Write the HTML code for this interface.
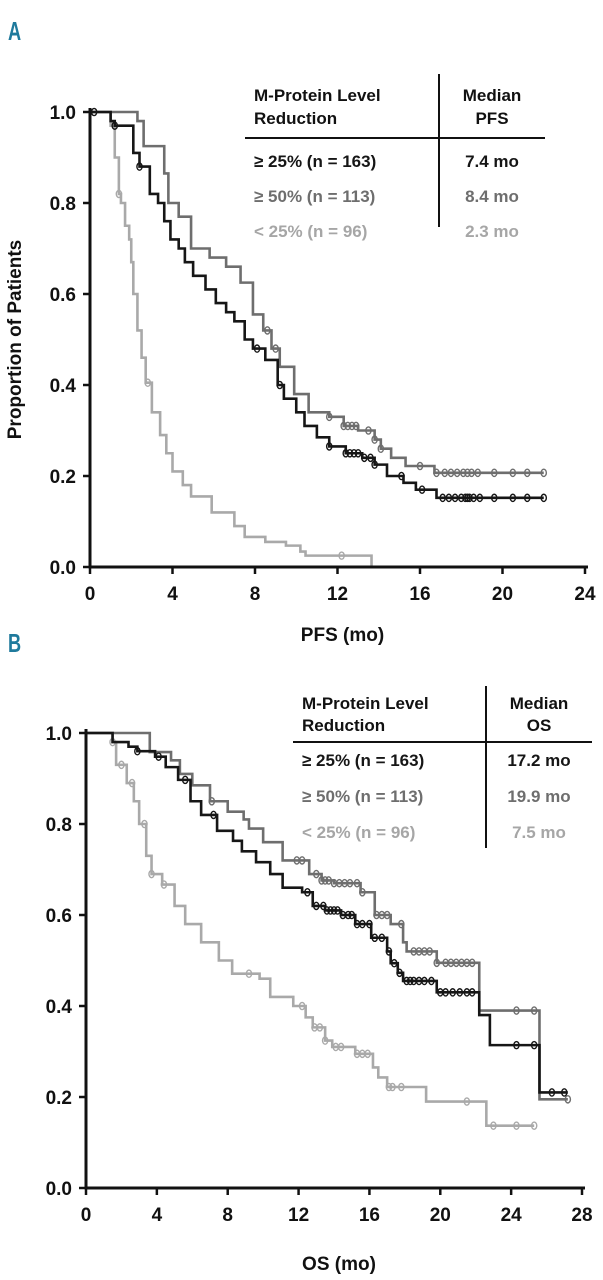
<!DOCTYPE html>
<html><head><meta charset="utf-8">
<style>
html,body{margin:0;padding:0;background:#fff;}
svg{display:block;font-family:"Liberation Sans",Arial,sans-serif;}
</style></head>
<body>
<svg id="fig" width="603" height="1280" viewBox="0 0 603 1280" xmlns="http://www.w3.org/2000/svg">
<g id="panelA"></g>
<g id="panelB"></g>
</svg>
<script>
// ===== Panel A (PFS) data =====
const pfsBlackT = [1.0,1.2,2.1,2.4,2.9,3.3,3.6,3.9,4.3,4.6,5.0,5.6,6.1,6.6,7.0,7.5,7.9,8.5,9.1,9.4,10.0,10.4,11.0,11.6,12.4,13.2,13.8,14.4,15.2,15.8,16.8];
const pfsBlackV = [0.98,0.97,0.91,0.88,0.82,0.80,0.76,0.72,0.70,0.67,0.64,0.61,0.58,0.56,0.54,0.50,0.48,0.455,0.40,0.37,0.34,0.31,0.285,0.265,0.25,0.24,0.225,0.20,0.185,0.17,0.152];
const pfsBlackC = [0.2,1.2,2.4,8.1,9.2,11.6,12.4,12.6,12.8,13.0,13.3,13.6,13.8,15.1,16.1,17.1,17.4,17.7,18.0,18.2,18.3,18.4,18.6,18.9,19.6,20.5,21.2,22.0];
const pfsDarkT = [2.3,2.6,3.6,3.8,4.3,4.9,5.8,6.6,7.3,7.9,8.4,8.8,9.2,9.9,10.6,11.6,12.3,13.0,13.8,14.1,14.6,15.3,16.7];
const pfsDarkV = [0.98,0.925,0.865,0.80,0.77,0.70,0.68,0.66,0.625,0.555,0.52,0.48,0.44,0.38,0.34,0.33,0.31,0.30,0.28,0.26,0.24,0.222,0.207];
const pfsDarkC = [8.6,9.0,11.6,12.3,12.5,12.7,12.9,13.5,13.8,14.1,16.0,16.8,17.2,17.5,17.8,18.1,18.3,18.5,18.8,19.6,20.5,21.2,22.0];
const pfsLightT = [1.0,1.2,1.4,1.5,1.7,1.9,2.0,2.1,2.3,2.5,2.7,3.0,3.4,3.7,4.0,4.5,4.9,5.9,7.0,7.5,8.5,9.5,10.2,10.45,13.65];
const pfsLightV = [0.97,0.90,0.82,0.80,0.75,0.72,0.67,0.60,0.52,0.46,0.405,0.34,0.29,0.25,0.21,0.18,0.155,0.12,0.09,0.066,0.055,0.047,0.034,0.025,0.0];
const pfsLightC = [1.4,2.8,12.2];
const pfsXTicks = [0,4,8,12,16,20,24];
const pfsYTicks = ["0.0","0.2","0.4","0.6","0.8","1.0"];
// ===== Panel B (OS) data =====
const osBlackT = [1.5,2.4,2.9,3.9,4.5,5.2,5.9,6.5,7.4,8.3,8.8,9.6,10.4,11.1,12.2,12.8,13.5,14.4,15.2,16.1,17.0,17.2,17.6,17.9,19.8,22.2,22.8,25.6];
const osBlackV = [0.98,0.97,0.96,0.948,0.925,0.897,0.85,0.82,0.785,0.763,0.74,0.716,0.69,0.66,0.65,0.62,0.61,0.60,0.58,0.55,0.52,0.494,0.473,0.455,0.43,0.38,0.314,0.21];
const osBlackC = [2.9,4.1,5.6,7.2,12.5,13.0,13.4,13.6,13.8,14.0,14.2,14.5,14.8,15.0,15.3,15.6,16.0,16.3,16.7,17.1,17.4,17.7,18.1,18.3,18.5,18.8,19.1,19.5,20.0,20.3,20.7,21.1,21.5,21.8,24.3,25.3,26.3,27.0];
const osDarkT = [3.6,4.8,5.3,6.0,7.0,8.0,8.9,9.2,10.0,11.1,12.6,13.3,14.0,15.5,16.3,17.2,17.9,18.1,19.8,22.2,25.6];
const osDarkV = [0.958,0.94,0.91,0.885,0.85,0.827,0.81,0.79,0.76,0.72,0.69,0.676,0.67,0.65,0.60,0.58,0.54,0.52,0.495,0.39,0.195];
const osDarkC = [7.1,11.9,12.2,13.0,13.3,13.5,13.7,14.0,14.3,14.6,14.9,15.3,15.6,16.4,16.7,17.0,17.8,18.5,18.8,19.1,19.4,19.8,20.3,20.6,20.9,21.2,21.5,21.8,24.3,25.3,27.2];
const osLightT = [1.5,1.7,2.3,2.7,3.0,3.4,3.7,4.3,5.0,5.6,6.5,7.5,8.25,9.8,10.4,11.7,12.4,12.8,13.5,13.9,15.2,16.2,16.5,17.0,19.2,22.6];
const osLightV = [0.98,0.93,0.89,0.85,0.80,0.73,0.69,0.667,0.62,0.58,0.54,0.50,0.471,0.46,0.42,0.40,0.375,0.353,0.324,0.31,0.295,0.265,0.243,0.222,0.19,0.137];
const osLightC = [1.5,2.0,2.6,3.3,3.7,4.4,9.2,12.2,12.9,13.2,13.5,14.1,14.4,15.3,15.6,15.9,17.1,17.3,17.8,21.5,23.0,24.3,25.3];
const osXTicks = [0,4,8,12,16,20,24,28];
const osYTicks = ["0.0","0.2","0.4","0.6","0.8","1.0"];

const NS = "http://www.w3.org/2000/svg";
const COL = {black:"#161616", dark:"#6e6e6e", light:"#a9a9a9"};
function mk(parent, tag, attrs, txt){
  const e = document.createElementNS(NS, tag);
  for (const k in attrs) e.setAttribute(k, attrs[k]);
  if (txt !== undefined) e.textContent = txt;
  parent.appendChild(e);
  return e;
}
function stepVal(T, V, t){
  let v = 1;
  for (let i=0;i<T.length;i++){ if (T[i] <= t) v = V[i]; }
  return v;
}
function drawPanel(g, geo, xTicks, yTicks, series, xTitle, yTitle, panelLetter, letterY, legend){
  const sx = t => geo.x0 + (t - xTicks[0]) / (xTicks[xTicks.length-1]-xTicks[0]) * (geo.x1 - geo.x0);
  const sy = v => geo.y0 - v * (geo.y0 - geo.y1);
  // panel letter
  const L = mk(g,"text",{x:8,y:letterY,"font-size":26,"font-weight":"bold",fill:"#1f7a9c",transform:`translate(8 ${letterY}) scale(0.7 1) translate(-8 ${-letterY})`},panelLetter);
  
  
  // series
  series.forEach(s=>{
    let d = `M${sx(0)},${sy(1)}`;
    let cur = 1;
    for (let i=0;i<s.T.length;i++){
      d += ` H${sx(s.T[i])} V${sy(s.V[i])}`;
      cur = s.V[i];
    }
    d += ` H${sx(s.end)}`;
    const p = mk(g,"path",{d:d,fill:"none",stroke:s.color,"stroke-width":2.6,"stroke-linejoin":"miter"});
    
    
    s.C.forEach(c=>{
      const e = mk(g,"ellipse",{cx:sx(c),cy:sy(stepVal(s.T,s.V,c)),rx:2.6,ry:3.6,fill:"none",stroke:s.color,"stroke-width":1.4});
      
      
    });
  });
  // axes
  const ax = mk(g,"path",{d:`M${geo.x0},${geo.y1-4} V${geo.y0} H${geo.x1+3}`,fill:"none",stroke:"#111","stroke-width":3});
  
  
  xTicks.forEach(t=>{
    const tk = mk(g,"line",{x1:sx(t),x2:sx(t),y1:geo.y0,y2:geo.y0+7,stroke:"#111","stroke-width":2.5});
    
    
    const lb = mk(g,"text",{x:sx(t),y:geo.y0+33,"text-anchor":"middle","font-size":19,"font-weight":"bold",fill:"#111"},String(t));
    
    
  });
  yTicks.forEach((t,i)=>{
    const v = parseFloat(t);
    const tk = mk(g,"line",{x1:geo.x0-7,x2:geo.x0,y1:sy(v),y2:sy(v),stroke:"#111","stroke-width":2.5});
    
    
    const lb = mk(g,"text",{x:geo.x0-14,y:sy(v)+7,"text-anchor":"end","font-size":19,"font-weight":"bold",fill:"#111"},t);
    
    
  });
  const xt = mk(g,"text",{x:(geo.x0+geo.x1)/2+5,y:geo.xTitleY,"text-anchor":"middle","font-size":19,"font-weight":"bold",fill:"#111"},xTitle);
  
  
  if (yTitle){
    const cy = (geo.y0+geo.y1)/2;
    const yt = mk(g,"text",{x:0,y:0,transform:`translate(21 ${cy}) rotate(-90)`,"text-anchor":"middle","font-size":19,"font-weight":"bold",fill:"#111"},yTitle);
    
    
  }
  // legend table
  const lg = mk(g,"g",{});
  
  
  const fs = 17;
  mk(lg,"text",{x:legend.lx,y:legend.h1,"font-size":fs,"font-weight":"bold",fill:"#111"},"M-Protein Level");
  mk(lg,"text",{x:legend.lx,y:legend.h2,"font-size":fs,"font-weight":"bold",fill:"#111"},"Reduction");
  mk(lg,"text",{x:legend.mx,y:legend.h1,"text-anchor":"middle","font-size":fs,"font-weight":"bold",fill:"#111"},"Median");
  mk(lg,"text",{x:legend.mx,y:legend.h2,"text-anchor":"middle","font-size":fs,"font-weight":"bold",fill:"#111"},legend.metric);
  mk(lg,"line",{x1:legend.hl0,x2:legend.hl1,y1:legend.hy,y2:legend.hy,stroke:"#111","stroke-width":2});
  mk(lg,"line",{x1:legend.vx,x2:legend.vx,y1:legend.vy0,y2:legend.vy1,stroke:"#111","stroke-width":2});
  legend.rows.forEach((r,i)=>{
    const t1 = mk(lg,"text",{x:legend.lx,y:legend.ry[i],"font-size":fs,"font-weight":"bold",fill:r.c},r.label);
    
    
    const t2 = mk(lg,"text",{x:legend.mx,y:legend.ry[i],"text-anchor":"middle","font-size":fs,"font-weight":"bold",fill:r.c},r.med);
    
    
  });
}

drawPanel(document.getElementById('panelA'),
  {x0:90,x1:585,y0:567,y1:112,xTitleY:641},
  pfsXTicks, pfsYTicks,
  [
    {name:'lt25',T:pfsLightT,V:pfsLightV,C:pfsLightC,end:13.65,color:COL.light},
    {name:'ge50',T:pfsDarkT,V:pfsDarkV,C:pfsDarkC,end:22.0,color:COL.dark},
    {name:'ge25',T:pfsBlackT,V:pfsBlackV,C:pfsBlackC,end:22.0,color:COL.black}
  ],
  "PFS (mo)","Proportion of Patients","A",40,
  {lx:254,mx:492,h1:101,h2:124,hy:138,hl0:245,hl1:545,vx:439,vy0:74,vy1:227,metric:"PFS",
   ry:[167,202,237],
   rows:[{label:"\u2265 25% (n = 163)",med:"7.4 mo",c:COL.black},
         {label:"\u2265 50% (n = 113)",med:"8.4 mo",c:COL.dark},
         {label:"< 25% (n = 96)",med:"2.3 mo",c:"#a6a6a6"}]}
);
drawPanel(document.getElementById('panelB'),
  {x0:86,x1:582,y0:1188,y1:733,xTitleY:1270},
  osXTicks, osYTicks,
  [
    {name:'lt25',T:osLightT,V:osLightV,C:osLightC,end:25.3,color:COL.light},
    {name:'ge50',T:osDarkT,V:osDarkV,C:osDarkC,end:27.2,color:COL.dark},
    {name:'ge25',T:osBlackT,V:osBlackV,C:osBlackC,end:27.2,color:COL.black}
  ],
  "OS (mo)",null,"B",652,
  {lx:302,mx:539,h1:709,h2:731,hy:742,hl0:293,hl1:592,vx:486,vy0:686,vy1:848,metric:"OS",
   ry:[766,802,838],
   rows:[{label:"\u2265 25% (n = 163)",med:"17.2 mo",c:COL.black},
         {label:"\u2265 50% (n = 113)",med:"19.9 mo",c:COL.dark},
         {label:"< 25% (n = 96)",med:"7.5 mo",c:"#a6a6a6"}]}
);
</script>
</body></html>
